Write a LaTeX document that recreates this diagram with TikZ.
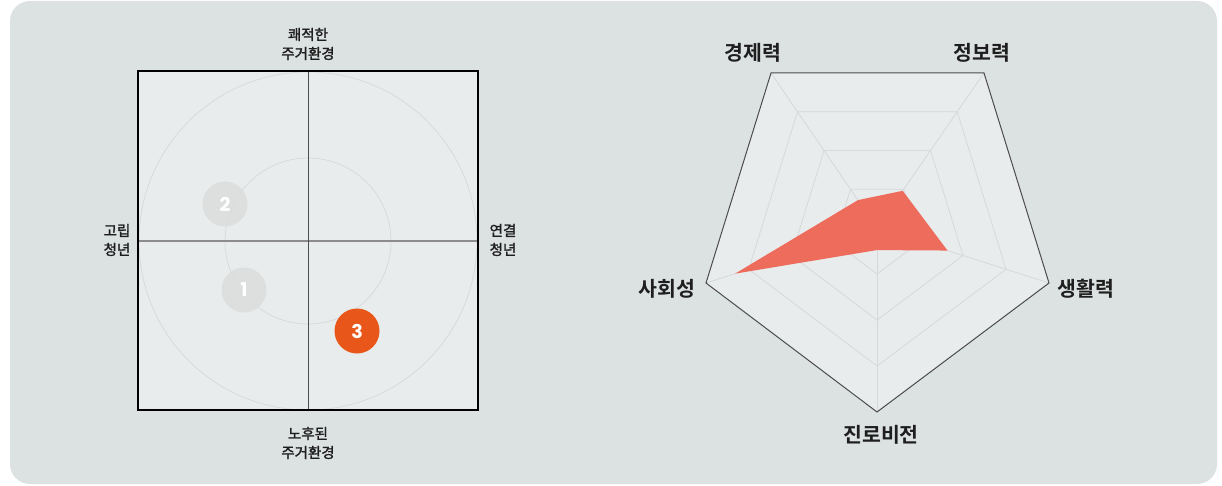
\documentclass[tikz,border=0pt]{standalone}
\usepackage{fontspec}
\newfontfamily\kr[FakeBold=1.6]{Noto Sans CJK KR}
\newfontfamily\krb{Noto Sans CJK KR Bold}
\newfontfamily\numf{Poppins}
\usetikzlibrary{calc}
\definecolor{bgc}{HTML}{DCE1E1}
\definecolor{panel}{HTML}{E9ECED}
\definecolor{orng}{HTML}{E8561A}
\definecolor{redf}{HTML}{EE6352}
\definecolor{dotg}{HTML}{DCDCDC}
\definecolor{gridc}{HTML}{D6D8D9}
\definecolor{txt}{HTML}{1E1E1E}
\tikzset{
  small/.style={font=\kr\fontsize{14.5}{19}\selectfont, text=txt, align=center, inner sep=0pt},
  big/.style={font=\krb\fontsize{20.5}{24}\selectfont, text=txt, inner sep=0pt},
  dot/.style={circle, minimum size=45pt, inner sep=0pt, font=\numf\bfseries\fontsize{19}{22}\selectfont, text=white},
  grid/.style={draw=gridc, line width=0.8pt},
}
\begin{document}
\begin{tikzpicture}[x=1pt,y=-1pt]
\useasboundingbox (0,0) rectangle (1222,486);
\fill[bgc, rounded corners=20pt] (10,1) rectangle (1217,484);

% ---------- quadrant chart ----------
\coordinate (q) at (308,241);
\fill[panel] (138,71) rectangle (478,410);
\draw[gridc, line width=0.7pt] (q) circle[radius=169];
\draw[gridc, line width=0.7pt] (q) circle[radius=83];
\draw[color=black!45, line width=1.8pt] (138,241) -- (478,241);
\draw[color=black!70, line width=0.9pt] (308,71) -- (308,410);
\draw[black, line width=2pt] (138,71) rectangle (478,410);

\node[dot, fill=dotg, fill opacity=0.85, text opacity=1] (d2) at (225,204) {2};
\node[dot, fill=dotg, fill opacity=0.85, text opacity=1] (d1) at (244,290) {1};
\node[dot, fill=orng] (d3) at (357,331) {3};

\node[small] (lt) at (308,44) {쾌적한\\주거환경};
\node[small] (lb) at (308,443) {노후된\\주거환경};
\node[small] (ll) at (117,240) {고립\\청년};
\node[small] (lr) at (503,240) {연결\\청년};

% ---------- radar chart ----------
\coordinate (c) at (877,228);
\coordinate (a1) at (771,73);
\coordinate (a2) at (984,73);
\coordinate (a3) at (1049,283);
\coordinate (a4) at (877,412);
\coordinate (a5) at (706,283);
\fill[panel] (a1) -- (a2) -- (a3) -- (a4) -- (a5) -- cycle;
\foreach \r in {0.25,0.5,0.75}{
  \draw[grid] ($(c)!\r!(a1)$) -- ($(c)!\r!(a2)$) -- ($(c)!\r!(a3)$) -- ($(c)!\r!(a4)$) -- ($(c)!\r!(a5)$) -- cycle;
}
\foreach \v in {a1,a2,a3,a4,a5}{ \draw[grid] (c) -- (\v); }
\fill[redf, fill opacity=0.93] ($(c)!0.18!(a1)$) -- ($(c)!0.24!(a2)$) -- ($(c)!0.41!(a3)$) -- ($(c)!0.12!(a4)$) -- ($(c)!0.83!(a5)$) -- cycle;
\draw[color=black!70, line width=1pt] (a1) -- (a2) -- (a3) -- (a4) -- (a5) -- cycle;

\node[big] (k1) at (753,53) {경제력};
\node[big] (k2) at (982,53) {정보력};
\node[big] (k3) at (1086,289) {생활력};
\node[big] (k4) at (881,435) {진로비전};
\node[big] (k5) at (667,289) {사회성};
\end{tikzpicture}
\end{document}
